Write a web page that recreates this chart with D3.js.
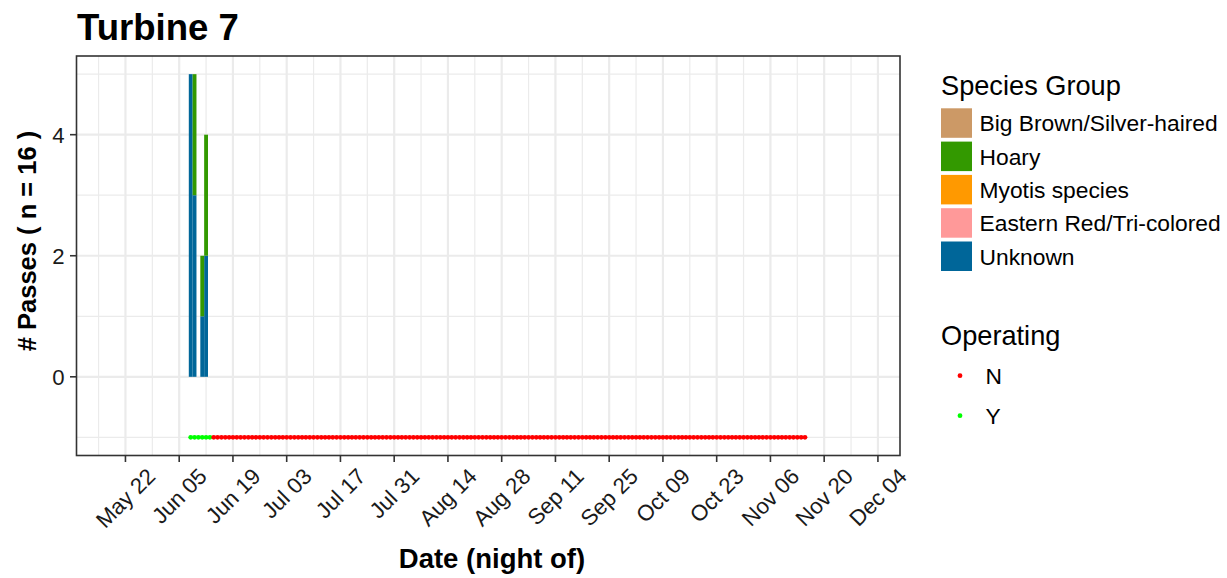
<!DOCTYPE html>
<html><head><meta charset="utf-8">
<script src="https://cdn.jsdelivr.net/npm/d3@7"></script>
<style>
body{margin:0;background:#fff}
svg{display:block}
text{font-family:"Liberation Sans",Arial,Helvetica,sans-serif;fill:#000}
</style>
</head><body><svg id="c" width="1227" height="578"></svg>
<script>
// ---------- data ----------
const chartTitle = "Turbine 7";
const yTitle = "# Passes ( n = 16 )";
const xTitle = "Date (night of)";

const speciesGroups = ["Big Brown/Silver-haired","Hoary","Myotis species","Eastern Red/Tri-colored","Unknown"];
const speciesColors = ["#CC9966","#339900","#FF9900","#FF9999","#006699"];

const passDates      = ["2019-06-08","2019-06-09","2019-06-11","2019-06-12"];
const passBigBrown   = [0,0,0,0];
const passHoary      = [0,2,1,2];
const passMyotis     = [0,0,0,0];
const passEasternRed = [0,0,0,0];
const passUnknown    = [5,3,1,2];

const operatingLevels = ["N","Y"];
const operatingColors = ["#FF0000","#00FF00"];
const operatingRunStatus = ["Y","N"];
const operatingRunStart  = ["2019-06-08","2019-06-14"];
const operatingRunEnd    = ["2019-06-13","2019-11-15"];
const operatingYValue = -1;

const xTickDates  = ["2019-05-22","2019-06-05","2019-06-19","2019-07-03","2019-07-17","2019-07-31","2019-08-14","2019-08-28","2019-09-11","2019-09-25","2019-10-09","2019-10-23","2019-11-06","2019-11-20","2019-12-04"];
const xTickLabels = ["May 22","Jun 05","Jun 19","Jul 03","Jul 17","Jul 31","Aug 14","Aug 28","Sep 11","Sep 25","Oct 09","Oct 23","Nov 06","Nov 20","Dec 04"];
const xMinorDates = ["2019-05-15","2019-05-29","2019-06-12","2019-06-26","2019-07-10","2019-07-24","2019-08-07","2019-08-21","2019-09-04","2019-09-18","2019-10-02","2019-10-16","2019-10-30","2019-11-13","2019-11-27"];
const yTicks = [0,2,4];
const yMinorTicks = [-1,1,3,5];
const xLimits = ["2019-05-19","2019-11-30"];
const yLimits = [-1,5];

// ---------- layout ----------
const P = {l:76.5, r:900, t:56, b:455.5};
const parse = d3.utcParse("%Y-%m-%d");
const svg = d3.select("#c");

const x0 = parse(xLimits[0]), x1 = parse(xLimits[1]);
const span = x1 - x0;
const x = d3.scaleUtc().domain([new Date(+x0 - 0.05*span), new Date(+x1 + 0.05*span)]).range([P.l, P.r]);
const ySpan = yLimits[1]-yLimits[0];
const y = d3.scaleLinear().domain([yLimits[0]-0.05*ySpan, yLimits[1]+0.05*ySpan]).range([P.b, P.t]);

svg.append("rect").attr("x",P.l).attr("y",P.t).attr("width",P.r-P.l).attr("height",P.b-P.t).attr("fill","#fff");

const grid = svg.append("g");
grid.selectAll(".xm").data(xMinorDates.map(parse)).join("line")
  .attr("x1",d=>x(d)).attr("x2",d=>x(d)).attr("y1",P.t).attr("y2",P.b)
  .attr("stroke","#EBEBEB").attr("stroke-width",1.2);
grid.selectAll(".ym").data(yMinorTicks).join("line")
  .attr("x1",P.l).attr("x2",P.r).attr("y1",d=>y(d)).attr("y2",d=>y(d))
  .attr("stroke","#EBEBEB").attr("stroke-width",1.2);
grid.selectAll(".xM").data(xTickDates.map(parse)).join("line")
  .attr("x1",d=>x(d)).attr("x2",d=>x(d)).attr("y1",P.t).attr("y2",P.b)
  .attr("stroke","#EBEBEB").attr("stroke-width",2.2);
grid.selectAll(".yM").data(yTicks).join("line")
  .attr("x1",P.l).attr("x2",P.r).attr("y1",d=>y(d)).attr("y2",d=>y(d))
  .attr("stroke","#EBEBEB").attr("stroke-width",2.2);

// ---------- bars ----------
const series = [passBigBrown, passHoary, passMyotis, passEasternRed, passUnknown];
const rows = passDates.map((d,i)=>{
  const o = {date: parse(d)};
  speciesGroups.forEach((g,k)=>o[g]=series[k][i]);
  return o;
});
const stackKeys = speciesGroups.slice().reverse();
const stacked = d3.stack().keys(stackKeys)(rows);
const colorOf = d3.scaleOrdinal().domain(speciesGroups).range(speciesColors);
const bars = svg.append("g");
stacked.forEach(s=>{
  bars.selectAll(null).data(s.filter(d=>d[1]>d[0])).join("rect")
    .attr("x",d=>x(d3.utcHour.offset(d.data.date,-12)))
    .attr("width",d=>x(d3.utcHour.offset(d.data.date,12))-x(d3.utcHour.offset(d.data.date,-12)))
    .attr("y",d=>y(d[1])).attr("height",d=>y(d[0])-y(d[1]))
    .attr("fill",colorOf(s.key));
});

// ---------- operating points ----------
const opPoints = [];
operatingRunStatus.forEach((st,i)=>{
  const a = parse(operatingRunStart[i]), b = parse(operatingRunEnd[i]);
  d3.utcDay.range(a, d3.utcDay.offset(b,1)).forEach(d=>opPoints.push({date:d,status:st}));
});
const opColor = d3.scaleOrdinal().domain(operatingLevels).range(operatingColors);
svg.append("g").selectAll("circle").data(opPoints).join("circle")
  .attr("cx",d=>x(d.date)).attr("cy",y(operatingYValue)).attr("r",2.4)
  .attr("fill",d=>opColor(d.status));

svg.append("rect").attr("x",P.l).attr("y",P.t).attr("width",P.r-P.l).attr("height",P.b-P.t)
  .attr("fill","none").attr("stroke","#333333").attr("stroke-width",1.6);

// ---------- axes ----------
const tickLen = 6.5, tickFont = 22.2;
const ax = svg.append("g");
ax.selectAll(".yt").data(yTicks).join("line")
  .attr("x1",P.l-tickLen).attr("x2",P.l).attr("y1",d=>y(d)).attr("y2",d=>y(d))
  .attr("stroke","#333333").attr("stroke-width",1.6);
ax.selectAll(".yl").data(yTicks).join("text")
  .attr("x",P.l-tickLen-5.5).attr("y",d=>y(d)).attr("dy","0.36em")
  .attr("text-anchor","end").attr("font-size",tickFont).style("fill","#1a1a1a")
  .text(d=>d3.format("d")(d));
ax.selectAll(".xt").data(xTickDates.map(parse)).join("line")
  .attr("x1",d=>x(d)).attr("x2",d=>x(d)).attr("y1",P.b).attr("y2",P.b+tickLen)
  .attr("stroke","#333333").attr("stroke-width",1.6);
const labTop = P.b + tickLen + 2.5;
const c45 = Math.SQRT1_2;
xTickDates.forEach((dStr,i)=>{
  const t = ax.append("text").attr("font-size",tickFont).attr("text-anchor","middle")
    .attr("dy","0.35em").style("fill","#1a1a1a").text(xTickLabels[i]);
  const L = t.node().getComputedTextLength();
  const h = (L + tickFont) * c45;
  const cx = x(parse(dStr)), cy = labTop + h/2;
  t.attr("transform",`translate(${cx},${cy}) rotate(-45)`);
});

// titles
svg.append("text").attr("x",77).attr("y",40).attr("font-size",36.6).attr("font-weight","bold").text(chartTitle);
svg.append("text").attr("x",492).attr("y",567.5).attr("text-anchor","middle")
  .attr("font-size",27.5).attr("font-weight","bold").text(xTitle);
svg.append("text").attr("transform",`translate(36,241) rotate(-90)`).attr("text-anchor","middle")
  .attr("font-size",25.5).attr("font-weight","bold").text(yTitle);

// ---------- legends ----------
const lg = svg.append("g");
lg.append("text").attr("x",941).attr("y",94.5).attr("font-size",27.2).text("Species Group");
speciesGroups.forEach((g,i)=>{
  const yy = 108.3 + i*33.3;
  lg.append("rect").attr("x",941).attr("y",yy).attr("width",31).attr("height",29.5).attr("fill",speciesColors[i]);
  lg.append("text").attr("x",979.5).attr("y",yy+14.8).attr("dy","0.36em").attr("font-size",22.8).text(g);
});
lg.append("text").attr("x",941).attr("y",344.5).attr("font-size",27.2).text("Operating");
operatingLevels.forEach((g,i)=>{
  const yy = 375.7 + i*40;
  lg.append("circle").attr("cx",960).attr("cy",yy).attr("r",2.4).attr("fill",operatingColors[i]);
  lg.append("text").attr("x",985.5).attr("y",yy).attr("dy","0.36em").attr("font-size",22.8).text(g);
});
</script>
</body></html>
